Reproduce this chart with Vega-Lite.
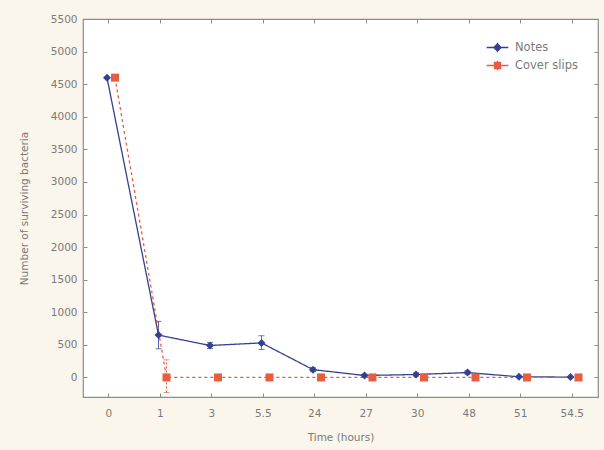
{
  "$schema": "https://vega.github.io/schema/vega-lite/v6.json",
  "width": 515,
  "height": 378,
  "autosize": {"type": "none"},
  "padding": {"left": 83, "top": 19, "right": 6, "bottom": 53},
  "background": "#FAF6EB",
  "config": {
    "font": "DejaVu Sans",
    "view": {"stroke": "#8c8c8c", "strokeWidth": 1.2, "fill": "#ffffff"},
    "axis": {
      "labelFont": "DejaVu Sans", "labelFontSize": 10.5, "labelColor": "#7a7a7a",
      "titleFont": "DejaVu Sans", "titleFontSize": 10.5, "titleColor": "#7a7a7a", "titleFontWeight": "normal",
      "domain": false, "grid": false, "tickColor": "#8c8c8c", "tickSize": -4
    },
    "legend": {"labelFont": "DejaVu Sans", "labelFontSize": 11.5, "labelColor": "#7a7a7a"}
  },
  "data": {
    "values": [
      {"time": "0", "series": "Notes", "value": 4600, "lo": 4600, "hi": 4600},
      {"time": "1", "series": "Notes", "value": 650, "lo": 440, "hi": 860},
      {"time": "3", "series": "Notes", "value": 490, "lo": 445, "hi": 535},
      {"time": "5.5", "series": "Notes", "value": 530, "lo": 430, "hi": 640},
      {"time": "24", "series": "Notes", "value": 120, "lo": 90, "hi": 150},
      {"time": "27", "series": "Notes", "value": 30, "lo": 10, "hi": 50},
      {"time": "30", "series": "Notes", "value": 45, "lo": 20, "hi": 70},
      {"time": "48", "series": "Notes", "value": 75, "lo": 50, "hi": 100},
      {"time": "51", "series": "Notes", "value": 10, "lo": 0, "hi": 20},
      {"time": "54.5", "series": "Notes", "value": 5, "lo": 0, "hi": 10},
      {"time": "0", "series": "Cover slips", "value": 4600, "lo": 4600, "hi": 4600},
      {"time": "1", "series": "Cover slips", "value": 0, "lo": -230, "hi": 270},
      {"time": "3", "series": "Cover slips", "value": 0, "lo": -20, "hi": 20},
      {"time": "5.5", "series": "Cover slips", "value": 0, "lo": -20, "hi": 20},
      {"time": "24", "series": "Cover slips", "value": 0, "lo": -10, "hi": 10},
      {"time": "27", "series": "Cover slips", "value": 0, "lo": -10, "hi": 10},
      {"time": "30", "series": "Cover slips", "value": 0, "lo": -10, "hi": 10},
      {"time": "48", "series": "Cover slips", "value": 0, "lo": -10, "hi": 10},
      {"time": "51", "series": "Cover slips", "value": 0, "lo": -10, "hi": 10},
      {"time": "54.5", "series": "Cover slips", "value": 0, "lo": -10, "hi": 10}
    ]
  },
  "resolve": {"axis": {"x": "independent", "y": "independent"}},
  "layer": [
    {
      "encoding": {
        "x": {
          "field": "time", "type": "ordinal",
          "sort": ["0", "1", "3", "5.5", "24", "27", "30", "48", "51", "54.5"],
          "scale": {"type": "band", "paddingInner": 0, "paddingOuter": 0},
          "axis": {"title": "Time (hours)", "labelAngle": 0, "labelPadding": 15, "titlePadding": 14}
        },
        "xOffset": {
          "field": "series", "type": "nominal",
          "scale": {"type": "point", "padding": 0, "domain": ["Notes", "Cover slips"], "range": [24, 32]}
        },
        "color": {
          "field": "series", "type": "nominal",
          "scale": {"domain": ["Notes", "Cover slips"], "range": ["#34418f", "#e85c40"]},
          "legend": {
            "title": null, "orient": "top-right", "offset": 19, "symbolSize": 300, "rowPadding": 1, "labelOffset": 8,
            "encode": {
              "symbols": {
                "update": {
                  "shape": {"signal": "datum.value === 'Notes' ? 'M-1.25,0L1.25,0M0,-0.55L0,0.55M-0.42,0L0,-0.42L0.42,0L0,0.42Z' : 'M-1.25,0L1.25,0M0,-0.55L0,0.55M-0.35,-0.35L0.35,-0.35L0.35,0.35L-0.35,0.35Z'"},
                  "stroke": {"signal": "datum.value === 'Notes' ? '#34418f' : '#e85c40'"},
                  "fill": {"signal": "datum.value === 'Notes' ? '#2e3a8a' : '#e8553a'"},
                  "strokeWidth": {"value": 1.3}
                }
              }
            }
          }
        }
      },
      "layer": [
        {
          "mark": {"type": "rule", "strokeWidth": 1},
          "encoding": {
            "y": {"field": "lo", "type": "quantitative",
              "scale": {"domain": [-300, 5500], "nice": false, "zero": false},
              "axis": {"title": "Number of surviving bacteria", "tickCount": 12, "format": "d", "labelPadding": 10, "titlePadding": 21}},
            "y2": {"field": "hi"},
            "strokeDash": {"condition": {"test": "datum.series === 'Cover slips'", "value": [2, 2]}, "value": [1, 0]}
          }
        },
        {
          "mark": {"type": "tick", "thickness": 1, "size": 6, "orient": "horizontal"},
          "encoding": {"y": {"field": "lo", "type": "quantitative"}}
        },
        {
          "mark": {"type": "tick", "thickness": 1, "size": 6, "orient": "horizontal"},
          "encoding": {"y": {"field": "hi", "type": "quantitative"}}
        },
        {
          "mark": {"type": "line", "strokeWidth": 1.3},
          "encoding": {
            "y": {"field": "value", "type": "quantitative"},
            "strokeDash": {"condition": {"test": "datum.series === 'Cover slips'", "value": [3, 3]}, "value": [1, 0]}
          }
        },
        {
          "mark": {"type": "point", "filled": true, "opacity": 1, "size": 64},
          "encoding": {
            "y": {"field": "value", "type": "quantitative"},
            "shape": {"condition": {"test": "datum.series === 'Cover slips'", "value": "square"}, "value": "diamond"}
          }
        }
      ]
    },
    {
      "mark": {"type": "point", "opacity": 0},
      "encoding": {
        "x": {
          "field": "time", "type": "ordinal",
          "sort": ["0", "1", "3", "5.5", "24", "27", "30", "48", "51", "54.5"],
          "axis": {"orient": "top", "labels": false, "title": null, "tickSize": -4}
        },
        "y": {
          "field": "value", "type": "quantitative",
          "axis": {"orient": "right", "labels": false, "title": null, "tickCount": 12, "tickSize": -4}
        }
      }
    }
  ]
}
